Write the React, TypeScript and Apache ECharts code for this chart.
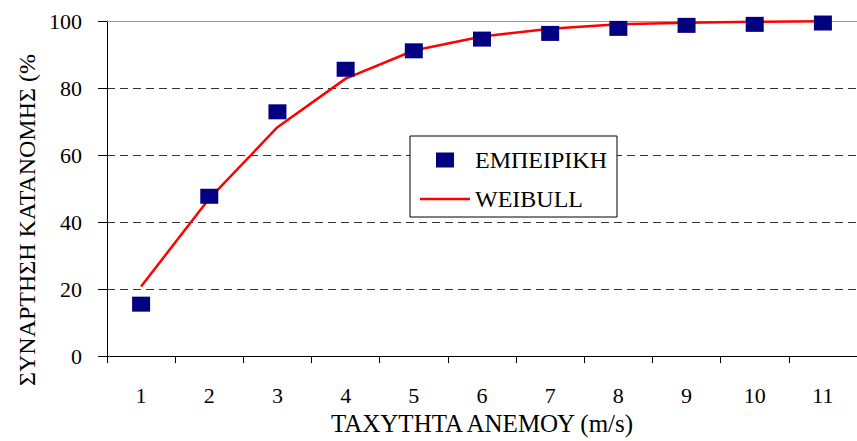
import React, { useEffect, useRef } from "react";
import * as echarts from "echarts";

const categories = ["1", "2", "3", "4", "5", "6", "7", "8", "9", "10", "11"];
const empirical = [15.5, 47.7, 72.9, 85.6, 91.1, 94.6, 96.3, 97.8, 98.7, 99.0, 99.4];
const weibull = [20.8, 47.0, 68.3, 82.8, 91.2, 95.4, 97.7, 99.0, 99.5, 99.8, 99.9];
const seriesNames = ["ΕΜΠΕΙΡΙΚΗ", "WEIBULL"];
const xTitle = "ΤΑΧΥΤΗΤΑ ΑΝΕΜΟΥ (m/s)";
const yTitle = "ΣΥΝΑΡΤΗΣΗ ΚΑΤΑΝΟΜΗΣ (%";

const FONT = '"Liberation Serif", "DejaVu Serif", serif';

export default function App() {
  const ref = useRef<HTMLDivElement>(null);
  useEffect(() => {
    document.body.style.margin = "0";
    if (!ref.current) return;
    const chart = echarts.init(ref.current, null, { renderer: "svg" });
    chart.setOption({
      animation: false,
      backgroundColor: "#fff",
      grid: { left: 107, top: 21, width: 752, height: 345, containLabel: false },
      legend: {
        orient: "vertical",
        left: 410,
        top: 136,
        padding: [12, 10, 6, 10],
        itemGap: 15,
        itemWidth: 50,
        itemHeight: 15,
        backgroundColor: "#fff",
        borderColor: "#000",
        borderWidth: 1,
        borderRadius: 0,
        textStyle: { fontFamily: FONT, fontSize: 24, color: "#000", lineHeight: 20 },
        data: [
          { name: seriesNames[0], icon: "path://M0,0M50,15M16,0h18v15h-18z" },
          { name: seriesNames[1], icon: "path://M0,0M50,15M0,6.25h50v2.5h-50z" },
        ],
      },
      xAxis: [
        {
          type: "category",
          data: categories,
          boundaryGap: true,
          position: "bottom",
          axisLine: { lineStyle: { color: "#000", width: 1 } },
          axisTick: { show: true, length: 7, lineStyle: { color: "#000" } },
          axisLabel: { fontFamily: FONT, fontSize: 22, color: "#000", margin: 28 },
          name: xTitle,
          nameLocation: "middle",
          nameGap: 48,
          nameTextStyle: { fontFamily: FONT, fontSize: 25, color: "#000" },
          splitLine: { show: false },
        },
        {
          type: "category",
          data: categories,
          position: "top",
          axisLine: { lineStyle: { color: "#999", width: 1 } },
          axisTick: { show: false },
          axisLabel: { show: false },
        },
      ],
      yAxis: {
        type: "value",
        min: 0,
        max: 100,
        interval: 20,
        axisLine: { show: true, lineStyle: { color: "#000", width: 1 } },
        axisTick: { show: true, length: 9, lineStyle: { color: "#000" } },
        axisLabel: { fontFamily: FONT, fontSize: 22, color: "#000", margin: 25 },
        splitLine: { show: true, lineStyle: { color: "#333", type: [8, 5], width: 1 } },
      },
      graphic: [
        {
          type: "text",
          x: 27,
          y: 386,
          rotation: Math.PI / 2,
          style: {
            text: yTitle,
            fontFamily: FONT,
            fontSize: 24,
            fill: "#000",
            align: "left",
            verticalAlign: "middle",
            textAlign: "left",
            textVerticalAlign: "middle",
          },
        },
      ],
      series: [
        {
          name: seriesNames[1],
          type: "line",
          data: weibull,
          symbol: "none",
          showSymbol: false,
          lineStyle: { color: "#ff0000", width: 2.5 },
          itemStyle: { color: "#ff0000" },
          z: 2,
        },
        {
          name: seriesNames[0],
          type: "scatter",
          data: empirical,
          symbol: "rect",
          symbolSize: [18, 15],
          itemStyle: { color: "#000080", opacity: 1 },
          z: 3,
        },
      ],
    });
    return () => chart.dispose();
  }, []);
  return <div ref={ref} style={{ width: 857, height: 441 }} />;
}
